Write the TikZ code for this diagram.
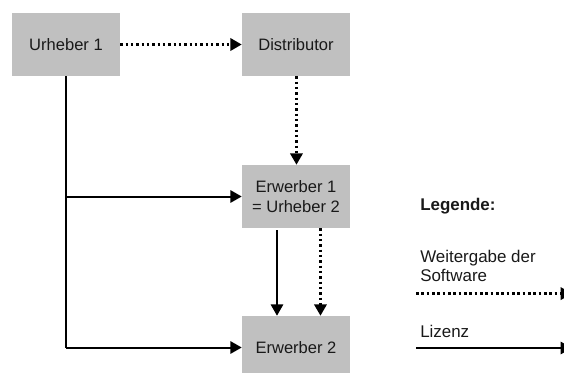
\documentclass[tikz,border=0pt]{standalone}
\usepackage{fontspec}
\setmainfont{Liberation Sans}
\usetikzlibrary{arrows.meta,positioning}
\tikzset{
  box/.style={fill=boxgray,minimum width=81pt,minimum height=47.25pt,inner sep=0pt,align=center,font=\fontsize{12.4}{14.4}\selectfont,text=black!90},
  solidarrow/.style={line width=1.5pt,-{Triangle[length=8.5pt,width=9.2pt]}},
  dotarrow/.style={line width=1.9pt,dash pattern=on 1.9pt off 2.1pt,-{Triangle[length=8.5pt,width=9.2pt]}},
  plainline/.style={line width=1.5pt},
  legendtext/.style={anchor=west,inner sep=0pt,align=left,font=\fontsize{12.7}{14.6}\selectfont,text=black!90}
}
\definecolor{boxgray}{gray}{0.753}
\begin{document}
\begin{tikzpicture}[x=0.75pt,y=-0.75pt]
\useasboundingbox (0,0) rectangle (564,372);
\node[box] (u1) at (66,44.5) {Urheber 1};
\node[box] (d) at (296,44.5) {Distributor};
\node[box] (e1) at (296,196.5) {Erwerber 1\\= Urheber 2};
\node[box] (e2) at (296,347.5) {Erwerber 2};
\draw[dotarrow] (u1) -- (d);
\draw[dotarrow] ([xshift=0.35pt]d.south) -- ([xshift=0.35pt]e1.north);
\draw[solidarrow] ([xshift=-14.25pt,yshift=-1.5pt]e1.south) -- ([xshift=-14.25pt]e2.north);
\draw[dotarrow] ([xshift=18.35pt]e1.south) -- ([xshift=18.35pt]e2.north);
\coordinate (j1) at (u1.south |- e1.west);
\coordinate (j2) at (u1.south |- e2.west);
\draw[plainline] (u1.south) -- (j2);
\draw[solidarrow] (j1) -- (e1.west);
\draw[solidarrow] (j2) -- (e2.west);
\node[legendtext,font=\fontsize{12.7}{14.6}\selectfont\bfseries] (lg) at (420,206) {Legende:};
\node[legendtext] (lw) at (420,266) {Weitergabe der\\Software};
\node[legendtext] (ll) at (420,331.5) {Lizenz};
\coordinate (a1) at (416,293.6);
\coordinate (b1) at (572,293.6);
\coordinate (a2) at (416,348);
\coordinate (b2) at (572,348);
\draw[dotarrow] (a1) -- (b1);
\draw[solidarrow] (a2) -- (b2);
\end{tikzpicture}
\end{document}
